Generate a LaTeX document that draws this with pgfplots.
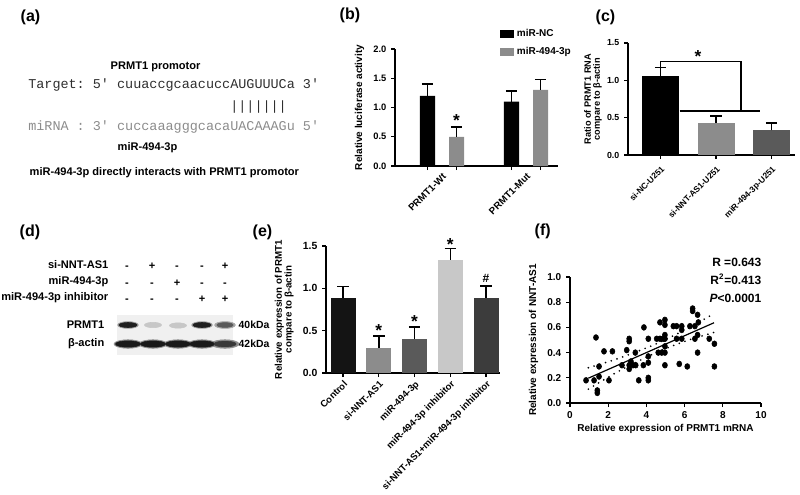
\documentclass[border=0pt]{standalone}
\usepackage{pgfplots}
\pgfplotsset{compat=1.18}
\usepackage{fontspec}
\setmainfont{Liberation Sans}
\setmonofont{Liberation Mono}
\newcommand\ff[1]{\fontsize{#1}{#1}\selectfont\bfseries}
\definecolor{gA}{HTML}{8C8C8C}
\definecolor{gD}{HTML}{5A5A5A}
\definecolor{gL}{HTML}{C8C8C8}
\definecolor{gE}{HTML}{3C3C3C}
\pgfplotsset{
  gp/.style={
    scale only axis,
    axis x line=bottom, axis y line=left,
    axis line style={-, line width=1.1pt},
    tick style={black, line width=1pt},
    major tick length=3pt,
    tick align=outside,
    enlargelimits=false,
    clip=false,
    /pgf/number format/assume math mode=true,
    ticklabel style={font=\ff{7}},
    label style={font=\ff{7.5}},
    yticklabel style={/pgf/number format/fixed,/pgf/number format/fixed zerofill,/pgf/number format/precision=1},
  },
  eb/.style={/pgfplots/error bars/y dir=plus, /pgfplots/error bars/y explicit,
    /pgfplots/error bars/error mark=-,
    /pgfplots/error bars/error bar style={line width=1.2pt,black},
    /pgfplots/error bars/error mark options={rotate=90,mark size=4.3pt,line width=1.2pt,black}},
}
\pgfplotstableread{
x y
0.84 0.18
1.26 0.18
1.36 0.52
1.43 0.10
1.43 0.08
1.52 0.29
1.52 0.21
1.78 0.41
2.04 0.18
2.22 0.41
2.72 0.30
2.97 0.42
3.10 0.51
3.10 0.49
3.10 0.30
3.10 0.27
3.19 0.33
3.30 0.30
3.42 0.40
3.44 0.30
3.60 0.18
3.87 0.60
3.84 0.30
4.10 0.51
4.10 0.37
4.10 0.32
4.10 0.20
4.10 0.18
4.54 0.51
4.71 0.64
4.71 0.51
4.62 0.40
4.80 0.40
4.88 0.51
4.97 0.66
4.97 0.62
4.97 0.54
4.97 0.51
4.97 0.45
4.97 0.40
4.97 0.30
5.41 0.61
5.58 0.61
5.58 0.51
5.72 0.31
5.85 0.61
5.85 0.58
5.85 0.51
6.14 0.29
6.28 0.61
6.42 0.75
6.42 0.73
6.54 0.61
6.54 0.51
6.68 0.70
6.68 0.54
6.68 0.40
6.72 0.64
7.29 0.51
7.56 0.47
7.56 0.29
}\scatterdata
\begin{document}
\begin{tikzpicture}[x=0.75pt,y=-0.75pt]
\path[use as bounding box] (0,0) rectangle (800,494);

% ---------- panel labels ----------
\node[anchor=west,font=\ff{12}] at (16,17) {(a)};
\node[anchor=west,font=\ff{12}] at (335,15) {(b)};
\node[anchor=west,font=\ff{12}] at (591,17) {(c)};
\node[anchor=west,font=\ff{12}] at (15,232) {(d)};
\node[anchor=west,font=\ff{12}] at (248,232) {(e)};
\node[anchor=west,font=\ff{12}] at (530,231) {(f)};

% ---------- (a) ----------
\node[anchor=west,font=\ff{8.3}] at (106,67) {PRMT1 promotor};
\node[anchor=west,inner sep=0pt,text=black!82,font=\ttfamily\fontsize{10.1}{12}\selectfont] at (28,85) {Target: 5' cuuaccgcaacuccAUGUUUCa 3'};
\node[anchor=west,inner sep=0pt,text=black!82,font=\ttfamily\fontsize{10.1}{12}\selectfont] at (230,107) {|||||||};
\node[anchor=west,inner sep=0pt,text=gA,font=\ttfamily\fontsize{10.1}{12}\selectfont] at (28,127) {miRNA : 3' cuccaaagggcacaUACAAAGu 5'};
\node[anchor=west,font=\ff{8.3}] at (113,148) {miR-494-3p};
\node[anchor=west,font=\ff{8.3}] at (25,173) {miR-494-3p directly interacts with PRMT1 promotor};

% ---------- (b) ----------
\begin{axis}[gp, at={(296.25pt,-124.5pt)}, anchor=south west,
  width=122.25pt, height=87.75pt,
  xmin=-0.56, xmax=1.38, ymin=0, ymax=2,
  ytick={0,0.5,1,1.5,2},
  xtick={-0.173,0.173,0.827,1.173}, xticklabels={},
  extra x ticks={0,1}, extra x tick labels={PRMT1-Wt,PRMT1-Mut},
  extra x tick style={major tick length=0pt, tick label style={rotate=45, anchor=north east, font=\ff{7.3}}},
  ylabel={Relative luciferase activity},
  legend style={draw=none, fill=none, at={(0.64,1.19)}, anchor=north west, font=\ff{7.5}, row sep=2.5pt, inner sep=0pt},
  legend cell align=left,
]
\addplot[ybar, bar width=0.18, bar shift=0pt, fill=black, draw=none,
  legend image code/.code={\fill[black] (0pt,-3pt) rectangle (11pt,3pt);}, eb]
  coordinates {(-0.173,1.2) +- (0,0.2) (0.827,1.1) +- (0,0.18)};
\addlegendentry{miR-NC}
\addplot[ybar, bar width=0.18, bar shift=0pt, fill=gA, draw=none,
  legend image code/.code={\fill[gA] (0pt,-3pt) rectangle (11pt,3pt);}, eb]
  coordinates {(0.173,0.5) +- (0,0.17) (1.173,1.3) +- (0,0.18)};
\addlegendentry{miR-494-3p}
\node[font=\ff{13}] at (axis cs:0.173,0.78) {*};
\end{axis}

% ---------- (c) ----------
\begin{axis}[gp, at={(471pt,-116.25pt)}, anchor=south west,
  width=125.25pt, height=84pt,
  xmin=-0.586, xmax=2.42, ymin=0, ymax=1.5,
  ytick={0,0.5,1,1.5},
  ticklabel style={font=\ff{6.6}},
  xtick={0,1,2}, xticklabels={si-NC-U251,si-NNT-AS1-U251,miR-494-3p-U251},
  x tick label style={rotate=45, anchor=north east, font=\ff{6.3}},
  ylabel={Ratio of PRMT1 RNA\\compare to β-actin},
  ylabel style={align=center, font=\ff{6.9}, yshift=-3pt},
]
\addplot[ybar, bar width=0.667, bar shift=0pt, fill=black, draw=none, eb] coordinates {(0,1.06) +- (0,0.11)};
\addplot[ybar, bar width=0.667, bar shift=0pt, fill=gA, draw=none, eb] coordinates {(1,0.435) +- (0,0.09)};
\addplot[ybar, bar width=0.667, bar shift=0pt, fill=gD, draw=none, eb] coordinates {(2,0.33) +- (0,0.1)};
\draw[line width=1.1pt] (axis cs:0,1.17) -- (axis cs:0,1.253) -- (axis cs:1.45,1.253) -- (axis cs:1.45,0.587);
\draw[line width=1.1pt] (axis cs:0.345,0.587) -- (axis cs:1.79,0.587);
\node[font=\ff{13}] at (axis cs:0.676,1.32) {*};
\end{axis}

% ---------- (d) ----------
\node[anchor=east,font=\ff{8.3}] at (113,265) {si-NNT-AS1};
\node[anchor=east,font=\ff{8.3}] at (113,282) {miR-494-3p};
\node[anchor=east,font=\ff{8.3}] at (113,298) {miR-494-3p inhibitor};
\foreach \xx/\s in {127/-,152/+,177/-,202/-,225/+} {\node[anchor=base,font=\ff{8.3}] at (\xx,269) {\s};}
\foreach \xx/\s in {127/-,152/-,177/+,202/-,225/-} {\node[anchor=base,font=\ff{8.3}] at (\xx,286) {\s};}
\foreach \xx/\s in {127/-,152/-,177/-,202/+,225/+} {\node[anchor=base,font=\ff{8.3}] at (\xx,302) {\s};}
\node[anchor=east,font=\ff{8.3}] at (109,325) {PRMT1};
\node[anchor=east,font=\ff{8.3}] at (109,344) {β-actin};
\node[anchor=west,font=\ff{7.8}] at (234,325) {40kDa};
\node[anchor=west,font=\ff{7.8}] at (234,344) {42kDa};
\begin{axis}[at={(87.75pt,-266.25pt)}, anchor=south west, scale only axis,
  width=87pt, height=30pt, xmin=117, xmax=233, ymin=0, ymax=40,
  hide axis, clip=false]
\fill[black!6] (rel axis cs:0,0) rectangle (rel axis cs:1,1);
% beta-actin
\addplot[only marks, mark=*, mark size=3.2pt, black!45, mark options={xscale=3.3}] coordinates {(128,11) (153,11) (178,11) (202,11) (225,11)};
\addplot[only marks, mark=*, mark size=2.4pt, black!90, mark options={xscale=3.9}] coordinates {(128,11) (153,11) (178,11) (202,11)};
\addplot[only marks, mark=*, mark size=2.2pt, black!78, mark options={xscale=3.8}] coordinates {(225,11)};
% PRMT1
\addplot[only marks, mark=*, mark size=2.6pt, black!35, mark options={xscale=3}] coordinates {(128,30) (202,30) (225,30)};
\addplot[only marks, mark=*, mark size=1.9pt, black!88, mark options={xscale=3.6}] coordinates {(128,30) (202,30)};
\addplot[only marks, mark=*, mark size=1.8pt, black!65, mark options={xscale=3.4}] coordinates {(225,30)};
\addplot[only marks, mark=*, mark size=2pt, black!22, mark options={xscale=3.2}] coordinates {(153,30) (178,29.5)};
\end{axis}

% ---------- (e) ----------
\begin{axis}[gp, at={(244.5pt,-279.75pt)}, anchor=south west,
  width=130.5pt, height=95.25pt,
  xmin=-0.476, xmax=4.39, ymin=0, ymax=1.5,
  ytick={0,0.5,1,1.5},
  ticklabel style={font=\ff{7.8}},
  xtick={0,1,2,3,4}, xticklabels={Control,si-NNT-AS1,miR-494-3p,miR-494-3p inhibitor,si-NNT-AS1+miR-494-3p inhibitor},
  x tick label style={rotate=45, anchor=north east, font=\ff{7.1}, inner sep=1.5pt},
  ylabel={Relative expression of PRMT1\\compare to β-actin},
  ylabel style={align=center, font=\ff{7.3}},
]
\addplot[ybar, bar width=0.7, bar shift=0pt, fill=black!92, draw=none, eb] coordinates {(0,0.89) +- (0,0.13)};
\addplot[ybar, bar width=0.7, bar shift=0pt, fill=gA, draw=none, eb] coordinates {(1,0.30) +- (0,0.14)};
\addplot[ybar, bar width=0.7, bar shift=0pt, fill=gD, draw=none, eb] coordinates {(2,0.40) +- (0,0.14)};
\addplot[ybar, bar width=0.7, bar shift=0pt, fill=gL, draw=none, eb] coordinates {(3,1.34) +- (0,0.13)};
\addplot[ybar, bar width=0.7, bar shift=0pt, fill=gE, draw=none, eb] coordinates {(4,0.89) +- (0,0.14)};
\node[font=\ff{13}] at (axis cs:1,0.50) {*};
\node[font=\ff{13}] at (axis cs:2,0.61) {*};
\node[font=\ff{13}] at (axis cs:3,1.52) {*};
\node[font=\ff{9}] at (axis cs:4,1.12) {\#};
\end{axis}

% ---------- (f) ----------
\begin{axis}[gp, at={(427.5pt,-302.25pt)}, anchor=south west,
  width=143.25pt, height=94.5pt,
  xmin=0, xmax=10, ymin=0, ymax=1,
  xtick={0,2,4,6,8,10}, ytick={0,0.2,0.4,0.6,0.8,1},
  ticklabel style={font=\ff{7.5}},
  xticklabel style={/pgf/number format/precision=0},
  xlabel={Relative expression of PRMT1 mRNA},
  ylabel={Relative expression of NNT-AS1},
  xlabel style={yshift=3pt},
]
\addplot[only marks, mark=*, mark size=1.9pt, black, mark options={yscale=1.15}] table[x=x,y=y] {\scatterdata};
\addplot[line width=0.9pt, black] coordinates {(0.96,0.197) (7.54,0.637)};
\addplot[smooth, line width=1.4pt, line cap=round, dash pattern=on 0pt off 4.5pt, black] coordinates {(0.96,0.28) (2.5,0.352) (4.4,0.462) (6,0.579) (7.54,0.71)};
\addplot[smooth, line width=1.4pt, line cap=round, dash pattern=on 0pt off 4.5pt, black] coordinates {(0.96,0.11) (2.5,0.248) (4.4,0.392) (6,0.489) (7.54,0.56)};
\end{axis}
\node[anchor=east,font=\ff{9}] at (766,262) {R =0.643};
\node[anchor=east,font=\ff{9}] at (766,279) {R\textsuperscript{2}=0.413};
\node[anchor=east,font=\ff{9}] at (766,298) {\textit{P}<0.0001};
\end{tikzpicture}
\end{document}
